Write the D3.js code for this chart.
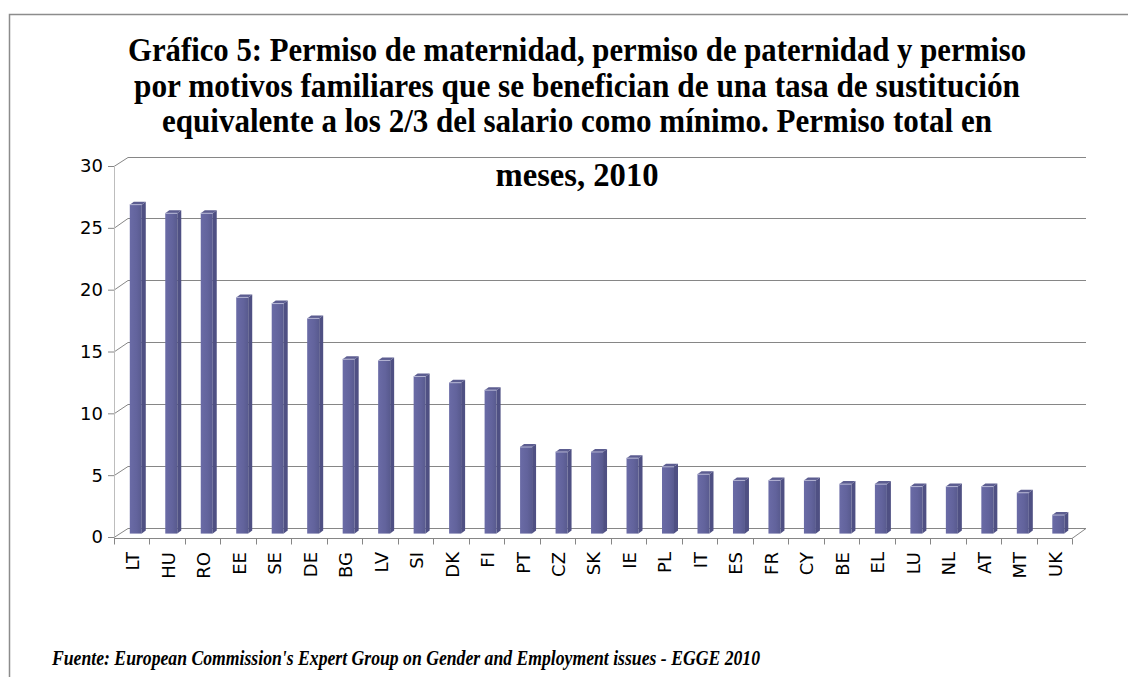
<!DOCTYPE html>
<html>
<head>
<meta charset="utf-8">
<style>
  body { margin: 0; background: #fff; }
  svg { display: block; }
  .title { font-family: "Liberation Serif", "Times New Roman", serif; font-weight: bold; font-size: 33px; fill: #000; }
  .source { font-family: "Liberation Serif", "Times New Roman", serif; font-weight: bold; font-style: italic; font-size: 20px; fill: #000; }
  .lbl { font-family: "DejaVu Sans", Verdana, sans-serif; font-size: 18px; fill: #000; }
</style>
<title>Gráfico 5</title>
</head>
<body>
<svg id="chart"></svg>
<script src="https://cdn.jsdelivr.net/npm/d3@7"></script>
<script>

var categories = ["LT","HU","RO","EE","SE","DE","BG","LV","SI","DK","FI","PT","CZ","SK",
                  "IE","PL","IT","ES","FR","CY","BE","EL","LU","NL","AT","MT","UK"];
var values = [26.6, 25.9, 25.9, 19.1, 18.6, 17.4, 14.1, 14.0, 12.7, 12.2, 11.6, 7.0, 6.6, 6.6,
              6.1, 5.4, 4.8, 4.3, 4.3, 4.3, 4.0, 4.0, 3.8, 3.8, 3.8, 3.3, 1.5];
var yTicks = [0, 5, 10, 15, 20, 25, 30];
var titleLines = [
  "Gráfico 5: Permiso de maternidad, permiso de paternidad y permiso",
  "por motivos familiares que se benefician de una tasa de sustitución",
  "equivalente a los 2/3 del salario como mínimo. Permiso total en",
  "meses, 2010"
];
var source = "Fuente: European Commission's Expert Group on Gender and Employment issues - EGGE 2010";

var W = 1128, H = 677;
var depth = {dx: 14, dy: -9.5};      // floor depth (front -> back wall)
var barDepth = {dx: 4, dy: -3};     // depth of each column
var barT = 0.36;                    // columns stand this far into the floor
var gridColor = "#868686";

var svg = d3.select("#chart").attr("width", W).attr("height", H);

// outer frame (top and left edges visible)
svg.append("path")
  .attr("d", "M9.5,677 V14.5 H1128")
  .attr("fill", "none").attr("stroke", "#8c8c8c").attr("stroke-width", 1.5);

var x = d3.scaleBand().domain(categories).range([114, 1072]).padding(0);
var y = d3.scaleLinear().domain([0, 30]).range([537, 166]);

var x0 = x.range()[0], x1 = x.range()[1];

// back wall gridlines + side wall connectors + front ticks
var grid = svg.append("g").attr("stroke", gridColor).attr("stroke-width", 1).attr("fill", "none");
yTicks.forEach(function(t) {
  var yy = Math.round(y(t) + depth.dy) + 0.5;
  grid.append("line")
    .attr("x1", x0 + depth.dx).attr("x2", x1 + depth.dx)
    .attr("y1", yy).attr("y2", yy);
  grid.append("path")
    .attr("d", "M" + (x0 - 6) + "," + (y(t) + 0.5) + " H" + x0 + " L" + (x0 + depth.dx) + "," + yy);
});

// front vertical axis
grid.append("line")
  .attr("x1", x0 + 0.5).attr("x2", x0 + 0.5)
  .attr("y1", y(30)).attr("y2", y(0))
  .attr("stroke", "#bdbdbd");

// front floor edge, right floor edge and category ticks
grid.append("path")
  .attr("d", "M" + x0 + "," + (y(0) + 1.5) + " H" + x1 + " L" + (x1 + depth.dx) + "," + (Math.round(y(0) + depth.dy) + 0.5));
categories.concat([null]).forEach(function(c, i) {
  var xx = Math.round(c ? x(c) : x1) + 0.5;
  grid.append("line")
    .attr("x1", xx).attr("x2", xx)
    .attr("y1", y(0) + 1.5).attr("y2", y(0) + 7.5);
});

// y tick labels
svg.append("g").selectAll("text")
  .data(yTicks)
  .enter().append("text")
    .attr("class", "lbl")
    .attr("font-size", "20px")
    .attr("x", x0 - 11)
    .attr("y", d => y(d))
    .attr("dy", "0.36em")
    .attr("text-anchor", "end")
    .text(d => d);

// gradients for the column faces
var defs = svg.append("defs");
var gFront = defs.append("linearGradient").attr("id", "front").attr("x1", "0").attr("x2", "1");
gFront.append("stop").attr("offset", "0").attr("stop-color", "#6a6ba6");
gFront.append("stop").attr("offset", "0.6").attr("stop-color", "#62639c");
gFront.append("stop").attr("offset", "1").attr("stop-color", "#585a8e");

// columns
var bars = svg.append("g").selectAll("g")
  .data(categories.map((c, i) => ({cat: c, v: values[i]})))
  .enter().append("g");

function bx(d) { return x(d.cat) + x.bandwidth() / 2 - 7 + barT * depth.dx; }
function byTop(d) { return y(d.v) + barT * depth.dy; }
function byBase(d) { return y(0) + barT * depth.dy; }
var bw = 12;

bars.append("rect")
  .attr("x", d => bx(d))
  .attr("y", d => byTop(d))
  .attr("width", bw)
  .attr("height", d => byBase(d) - byTop(d))
  .attr("fill", "url(#front)");

bars.append("path")
  .attr("d", function(d) {
    var xr = bx(d) + bw, t = byTop(d), b = byBase(d);
    return "M" + xr + "," + t + " L" + (xr + barDepth.dx) + "," + (t + barDepth.dy) +
      " L" + (xr + barDepth.dx) + "," + (b + barDepth.dy) + " L" + xr + "," + b + "Z";
  })
  .attr("fill", "#4f5083");

bars.append("path")
  .attr("d", function(d) {
    var xl = bx(d), t = byTop(d);
    return "M" + xl + "," + t + " L" + (xl + bw) + "," + t +
      " L" + (xl + bw + barDepth.dx) + "," + (t + barDepth.dy) + " L" + (xl + barDepth.dx) + "," + (t + barDepth.dy) + "Z";
  })
  .attr("fill", "#5c5d90");

bars.append("line")
  .attr("x1", d => bx(d)).attr("x2", d => bx(d) + bw)
  .attr("y1", d => byTop(d)).attr("y2", d => byTop(d))
  .attr("stroke", "#b4b5d4").attr("stroke-width", 1);

// category labels
svg.append("g").selectAll("text")
  .data(categories)
  .enter().append("text")
    .attr("class", "lbl")
    .attr("transform", d => "translate(" + (x(d) + x.bandwidth() / 2 + 1) + "," + (y(0) + 15) + ") rotate(-90)")
    .attr("dy", "0.36em")
    .attr("text-anchor", "end")
    .text(d => d);

// title (the original face is a little narrower than Liberation Serif)
var titleWidths = [898, 886, 830, 163];
svg.append("g").selectAll("text")
  .data(titleLines)
  .enter().append("text")
    .attr("class", "title")
    .attr("x", 577)
    .attr("y", (d, i) => [61, 97, 132, 186][i])
    .attr("text-anchor", "middle")
    .attr("textLength", (d, i) => titleWidths[i])
    .attr("lengthAdjust", "spacingAndGlyphs")
    .text(d => d);

// source
svg.append("text")
  .attr("class", "source")
  .attr("x", 52)
  .attr("y", 665)
  .attr("textLength", 708)
  .attr("lengthAdjust", "spacingAndGlyphs")
  .text(source);

</script>
</body>
</html>
